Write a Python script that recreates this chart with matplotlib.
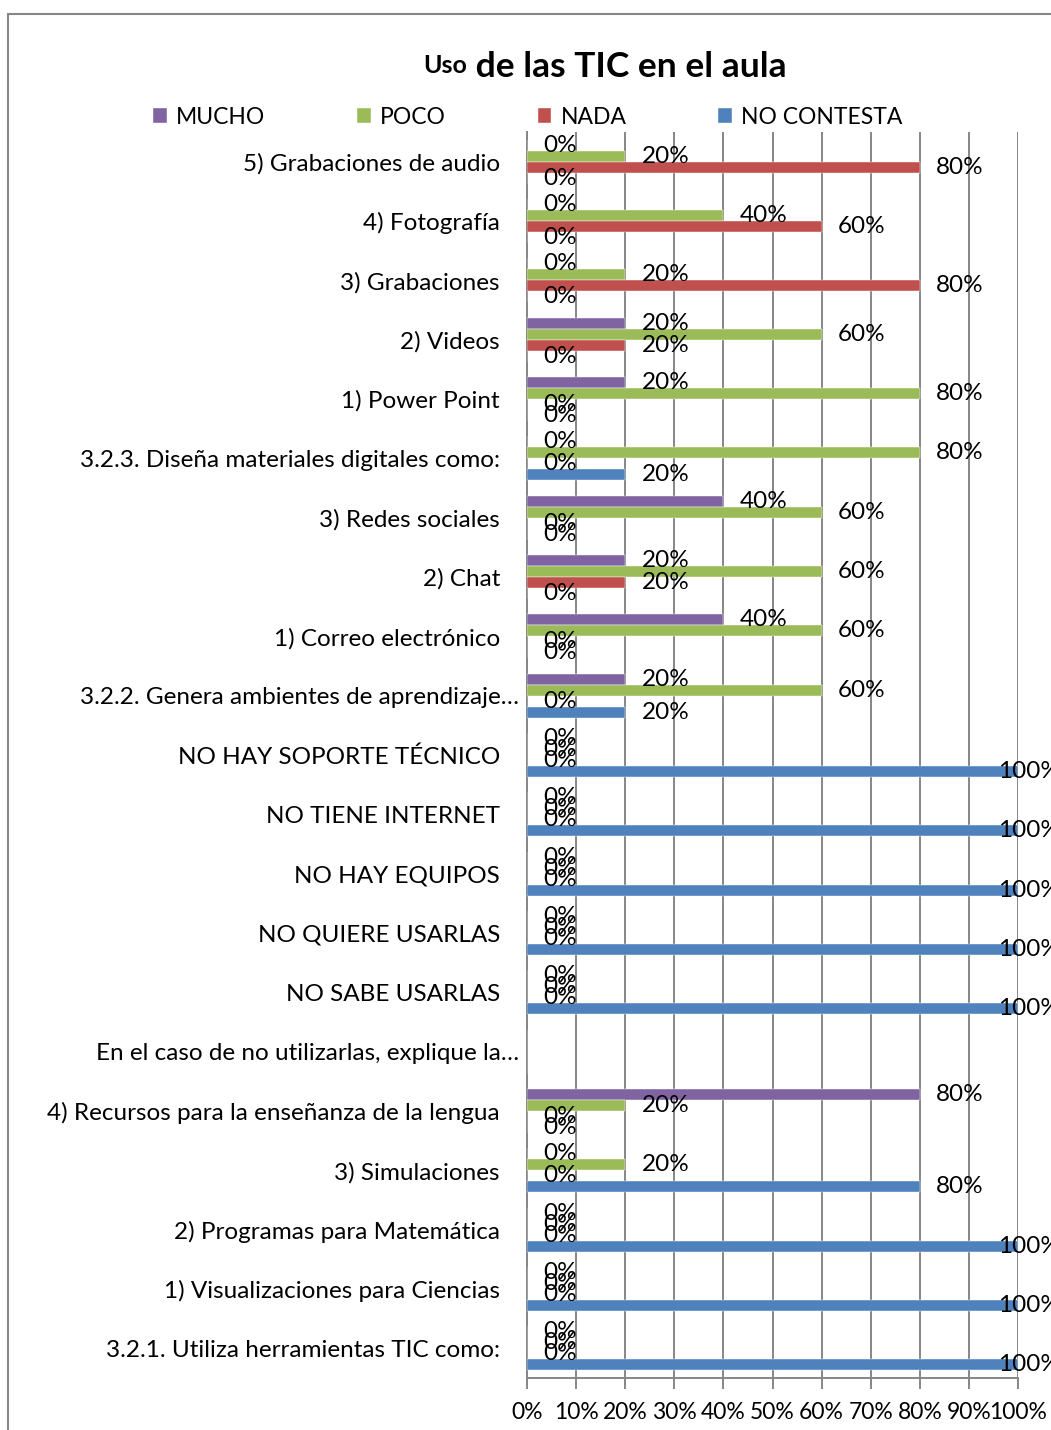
import numpy as np
import matplotlib.pyplot as plt
from matplotlib.patches import Rectangle
from matplotlib.transforms import ScaledTranslation

plt.rcParams['font.family'] = ['Lato', 'DejaVu Sans']

# categories listed bottom to top, as on the chart
categories = [
    "3.2.1. Utiliza herramientas TIC como:",
    "1) Visualizaciones para Ciencias",
    "2) Programas para Matemática",
    "3) Simulaciones",
    "4) Recursos para la enseñanza de la lengua",
    "En el caso de no utilizarlas, explique la…",
    "NO SABE USARLAS",
    "NO QUIERE USARLAS",
    "NO HAY EQUIPOS",
    "NO TIENE INTERNET",
    "NO HAY SOPORTE TÉCNICO",
    "3.2.2. Genera ambientes de aprendizaje…",
    "1) Correo electrónico",
    "2) Chat",
    "3) Redes sociales",
    "3.2.3. Diseña materiales digitales como:",
    "1) Power Point",
    "2) Videos",
    "3) Grabaciones",
    "4) Fotografía",
    "5) Grabaciones de audio",
]

nan = np.nan
mucho = [0, 0, 0, 0, 80, nan, 0, 0, 0, 0, 0, 20, 40, 20, 40, 0, 20, 20, 0, 0, 0]
poco = [0, 0, 0, 20, 20, nan, 0, 0, 0, 0, 0, 60, 60, 60, 60, 80, 80, 60, 20, 40, 20]
nada = [0, 0, 0, 0, 0, nan, 0, 0, 0, 0, 0, 0, 0, 20, 0, 0, 0, 20, 80, 60, 80]
no_contesta = [100, 100, 100, 80, 0, nan, 100, 100, 100, 100, 100, 20, 0, 0, 0, 20, 0, 0, 0, 0, 0]

series_names = ["MUCHO", "POCO", "NADA", "NO CONTESTA"]
series_values = [mucho, poco, nada, no_contesta]
colors = ["#8064A2", "#9BBB59", "#C0504D", "#4F81BD"]

fig = plt.figure(figsize=(10.51, 14.30), dpi=100)

# outer chart border (cut off on the right and bottom like the original)
fig.patches.append(Rectangle((8 / 1051, -0.1), 1.2, 1 - 14 / 1430 + 0.1,
                             transform=fig.transFigure, fill=False,
                             edgecolor="#868686", linewidth=1.5))

ax = fig.add_axes([527 / 1051, 1 - 1378 / 1430, 491 / 1051, 1246 / 1430])

y = np.arange(len(categories))
h = 0.185
offsets = [1.5 * h, 0.5 * h, -0.5 * h, -1.5 * h]

for name, vals, col, off in zip(series_names, series_values, colors, offsets):
    vals = np.array(vals, dtype=float)
    ax.barh(y + off, np.nan_to_num(vals), height=h, color=col,
            edgecolor="white", linewidth=0.3, label=name, zorder=3)
    for yi, v in zip(y, vals):
        if np.isnan(v):
            continue
        ax.text(min(v + 3.3, 95.9), yi + off, f"{v:.0f}%", ha="left",
                va="center", fontsize=17.5, zorder=4, clip_on=False)

ax.set_xlim(0, 100)
ax.set_ylim(-0.5, len(categories) - 0.5)
ax.set_xticks(np.arange(0, 101, 10))
ax.set_xticklabels([f"{t}%" for t in range(0, 101, 10)], fontsize=16.5)
ax.set_yticks(y)
ax.set_yticklabels(categories, fontsize=17.5)

ax.grid(axis="x", color="#868686", linewidth=1.4, zorder=0)
ax.set_axisbelow(True)
for s in ["top", "right"]:
    ax.spines[s].set_visible(False)
for s in ["left", "bottom"]:
    ax.spines[s].set_color("#868686")
    ax.spines[s].set_linewidth(1.4)
ax.tick_params(axis="x", direction="out", length=8, width=1.4,
               color="#868686", pad=9)
ax.tick_params(axis="y", length=0, pad=19.5)

# labels truncated with an ellipsis stick out further to the right
for lab in ax.get_yticklabels():
    if lab.get_text().endswith("…"):
        lab.set_transform(lab.get_transform() +
                          ScaledTranslation(19 / 100, 0, fig.dpi_scale_trans))

# title with a smaller first word
t1 = fig.text(423 / 1051, 1 - 73 / 1430, "Uso", fontsize=18, fontweight="bold",
              ha="left", va="baseline")
ax.annotate(" de las TIC en el aula", xy=(1, 0), xycoords=t1,
            fontsize=25.5, fontweight="bold", ha="left", va="baseline")

fig.legend(loc="center", bbox_to_anchor=(528 / 1051, 1 - 117 / 1430), ncol=4,
           frameon=False, fontsize=16.5, handlelength=0.6, handleheight=0.6,
           handletextpad=0.4, columnspacing=4.0)

fig.savefig("out.png", dpi=100)
